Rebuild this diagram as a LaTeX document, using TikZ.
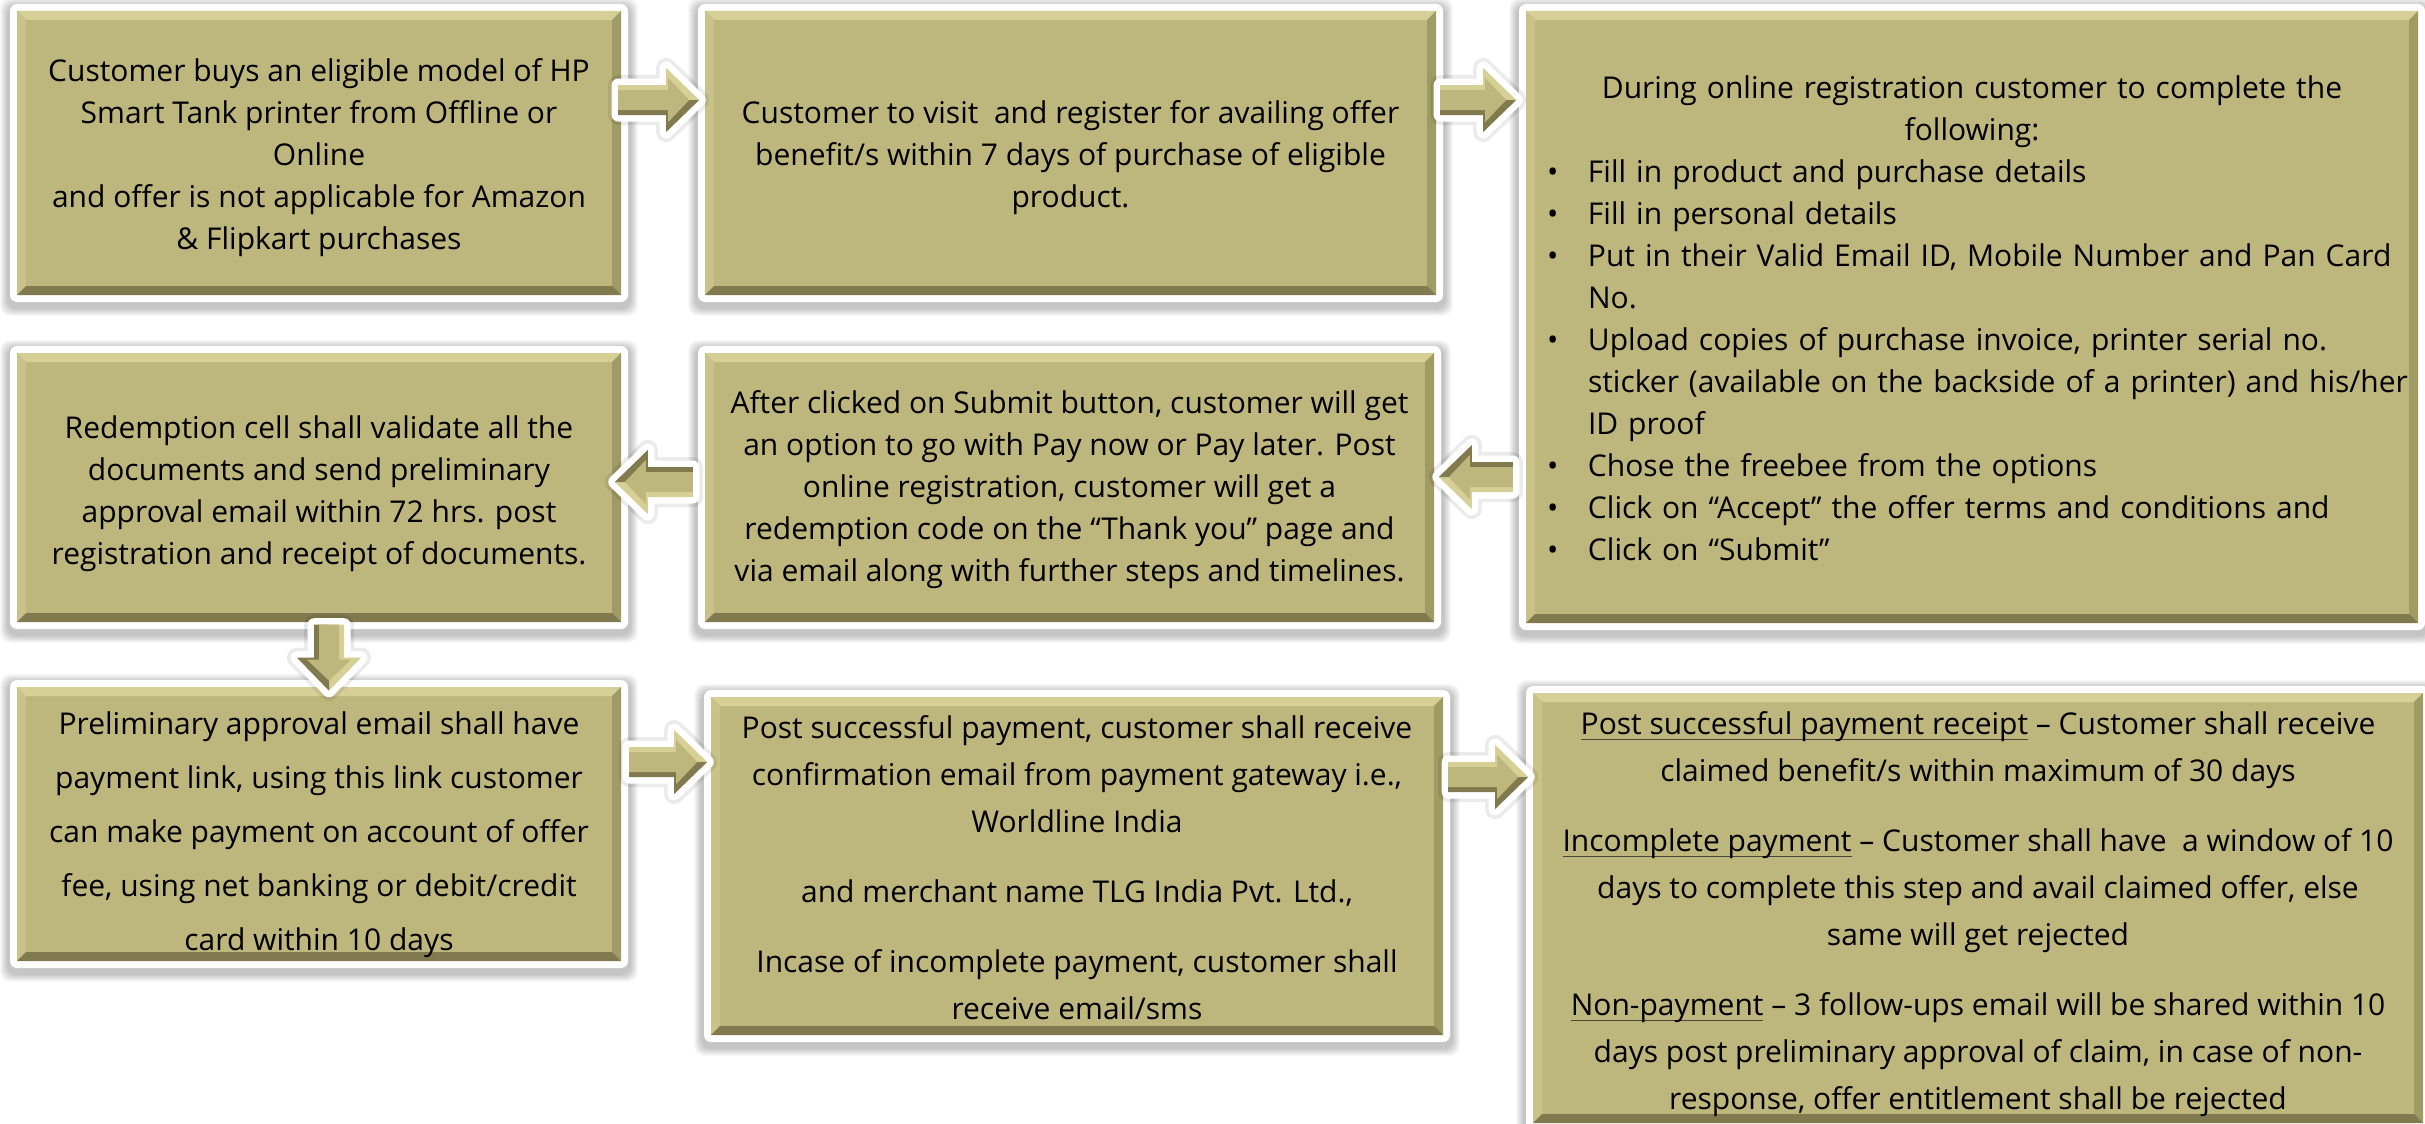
\documentclass[tikz,border=0pt]{standalone}
\usepackage{fontspec}
\setmainfont{Open Sans}
\usetikzlibrary{calc}
\definecolor{olv}{RGB}{189,183,126}
\definecolor{olvlt}{RGB}{214,207,150}
\definecolor{olvlt2}{RGB}{201,195,138}
\definecolor{olvdk}{RGB}{128,122,78}
\definecolor{olvdk2}{RGB}{160,154,100}
\definecolor{ulgrey}{RGB}{70,70,60}

\tikzset{
  txt/.style={inner sep=0pt, align=center, text=black, font=\fontsize{30}{42}\selectfont},
  txtwide/.style={txt, font=\fontsize{30}{54}\selectfont},
  txtpara/.style={txt, font=\fontsize{30}{47}\selectfont},
}

\newcommand\panel[4]{%
  \foreach \k in {1,...,10}{
    \fill[black,opacity=0.025,rounded corners=10] (#1-9-\k*0.8,#2-5-\k*0.8) rectangle (#3+9+\k*0.8,#4+13+\k*0.8);
  }
  \fill[white,rounded corners=7] (#1-7,#2-7) rectangle (#3+7,#4+7);
  \fill[olv] (#1,#2) rectangle (#3,#4);
  \fill[olvlt] (#1,#2) -- (#3,#2) -- (#3-9,#2+9) -- (#1+9,#2+9) -- cycle;
  \fill[olvlt2] (#1,#2) -- (#1+9,#2+9) -- (#1+9,#4-9) -- (#1,#4) -- cycle;
  \fill[olvdk2] (#3,#2) -- (#3,#4) -- (#3-9,#4-9) -- (#3-9,#2+9) -- cycle;
  \fill[olvdk] (#1,#4) -- (#3,#4) -- (#3-9,#4-9) -- (#1+9,#4-9) -- cycle;
}

\newcommand\barrow[2]{%
  \begin{scope}[#1]
    \pgfmathsetmacro\hb{#2-33}
    \filldraw[black,opacity=0.08,line width=20pt,line join=round]
      (0,-15) -- (\hb,-15) -- (\hb,-32) -- (#2,0) -- (\hb,32) -- (\hb,15) -- (0,15) -- cycle;
    \filldraw[white,line width=13pt,line join=round]
      (0,-15) -- (\hb,-15) -- (\hb,-32) -- (#2,0) -- (\hb,32) -- (\hb,15) -- (0,15) -- cycle;
    \fill[olvlt] (0,-15) -- (\hb,-15) -- (\hb,-32) -- (#2,0) -- (0,0) -- cycle;
    \fill[olvdk] (0,0) -- (#2,0) -- (\hb,32) -- (\hb,15) -- (0,15) -- cycle;
    \fill[olv] (0,-10) -- (\hb+2,-10) -- (\hb+2,-22) -- (#2-10,0) -- (\hb+2,22) -- (\hb+2,10) -- (0,10) -- cycle;
  \end{scope}}

\newcommand\ulx[1]{\setbox0\hbox{#1}\rlap{\color{ulgrey}\rule[-6pt]{\wd0}{1.6pt}}\box0\relax}
\newcommand\bitem[1]{\par\hangindent=41pt\hangafter=1\noindent\makebox[41pt][l]{•}#1}
\newcommand\brk{\hfil\break}

\begin{document}
\begin{tikzpicture}[x=1pt,y=-1pt]
\useasboundingbox (0,0) rectangle (2425,1124);
\fill[white] (0,0) rectangle (2425,1124);

% panels
\panel{17}{11}{621}{295}
\panel{705}{11}{1436}{295}
\panel{1526}{11}{2418}{623}
\panel{17}{353}{621}{622}
\panel{705}{353}{1434}{622}
\panel{17}{687}{621}{961}
\panel{711}{697}{1443}{1035}
\panel{1533}{693}{2423}{1123}

% texts
\node[txt, minimum width=604, minimum height=284] (b1) at (319,158)
  {Customer buys an eligible model of HP\\Smart Tank printer from Offline or\\Online\\and offer is not applicable for Amazon\\\& Flipkart purchases};
\node[txt, minimum width=731, minimum height=284] (b2) at (1070.5,158)
  {Customer to visit\ \ and register for availing offer\\benefit/s within 7 days of purchase of eligible\\product.};
\node[txt, minimum width=892, minimum height=612, text width=850, align=left] (b3) at (1972,318)
  {{\centering During online registration customer to complete the\\following:\par}
   \raggedright\rightskip=-80pt plus 2em
   \bitem{Fill in product and purchase details}
   \bitem{Fill in personal details}
   \bitem{Put in their Valid Email ID, Mobile Number and Pan Card\brk No.}
   \bitem{Upload copies of purchase invoice, printer serial no.\brk sticker (available on the backside of a printer) and his/her\brk ID proof}
   \bitem{Chose the freebee from the options}
   \bitem{Click on “Accept” the offer terms and conditions and}
   \bitem{Click on “Submit”}\par};
\node[txt, minimum width=604, minimum height=269] (b4) at (319,494)
  {Redemption cell shall validate all the\\documents and send preliminary\\approval email within 72 hrs. post\\registration and receipt of documents.};
\node[txt, minimum width=729, minimum height=269] (b5) at (1069.5,490)
  {After clicked on Submit button, customer will get\\an option to go with Pay now or Pay later. Post\\online registration, customer will get a\\redemption code on the “Thank you” page and\\via email along with further steps and timelines.};
\node[txtwide, minimum width=604, minimum height=274] (b7) at (319,835)
  {Preliminary approval email shall have\\payment link, using this link customer\\can make payment on account of offer\\fee, using net banking or debit/credit\\card within 10 days};
\node[txtpara, minimum width=732, minimum height=338] (b8) at (1077,868)
  {Post successful payment, customer shall receive\\confirmation email from payment gateway i.e.,\\Worldline India\\[23pt]and merchant name TLG India Pvt. Ltd.,\\[23pt]Incase of incomplete payment, customer shall\\receive email/sms};
\node[txtpara, minimum width=890, minimum height=430] (b9) at (1978,914)
  {\ulx{Post successful payment receipt} – Customer shall receive\\claimed benefit/s within maximum of 30 days\\[23pt]\ulx{Incomplete payment} – Customer shall have\ \ a window of 10\\days to complete this step and avail claimed offer, else\\same will get rejected\\[23pt]\ulx{Non-payment} – 3 follow-ups email will be shared within 10\\days post preliminary approval of claim, in case of non-\\response, offer entitlement shall be rejected};

% block arrows (connectors)
\barrow{shift={($(b1.east)+(-3,-58)$)}}{81}
\barrow{shift={($(b2.east)+(4,-58)$)}}{76}
\barrow{shift={($(b3.west)+(-13,159)$)},rotate=180}{74}
\barrow{shift={($(b5.west)+(-12,-8)$)},rotate=180}{78}
\barrow{shift={($(b4.south)+(10,-4)$)},rotate=-90}{66}
\barrow{shift={($(b7.east)+(8,-73)$)}}{78}
\barrow{shift={($(b8.east)+(5,-91)$)}}{80}
\end{tikzpicture}
\end{document}
